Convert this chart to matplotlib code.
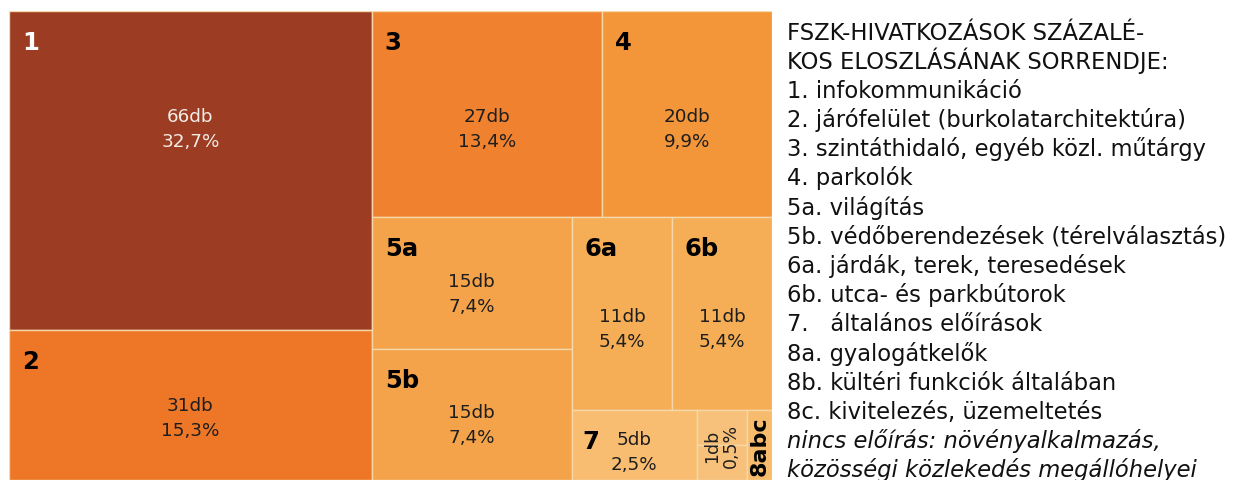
import matplotlib.pyplot as plt
from matplotlib.patches import Rectangle

plt.rcParams['font.family'] = ['DejaVu Sans']

# treemap data
keys = ["1", "2", "3", "4", "5a", "5b", "6a", "6b", "7", "8a", "8b", "8c"]
counts = [66, 31, 27, 20, 15, 15, 11, 11, 5, 1, 1, 1]
percents = [32.7, 15.3, 13.4, 9.9, 7.4, 7.4, 5.4, 5.4, 2.5, 0.5, 0.5, 0.5]
colors = ["#9c3d23", "#ee7627", "#f0822f", "#f39539", "#f4a34a", "#f4a34a",
          "#f5ad56", "#f5ad56", "#f8bd71", "#f8c17b", "#f8c17b", "#f7bb6e"]

# nesting of the boxes (binary splits)
tree = (("1", "2"),
        (("3", "4"),
         (("5a", "5b"),
          (("6a", "6b"),
           ("7", (("8a", "8b"), "8c"))))))

legend_lines = [
    "FSZK-HIVATKOZÁSOK SZÁZALÉ-",
    "KOS ELOSZLÁSÁNAK SORRENDJE:",
    "1. infokommunikáció",
    "2. járófelület (burkolatarchitektúra)",
    "3. szintáthidaló, egyéb közl. műtárgy",
    "4. parkolók",
    "5a. világítás",
    "5b. védőberendezések (térelválasztás)",
    "6a. járdák, terek, teresedések",
    "6b. utca- és parkbútorok",
    "7.   általános előírások",
    "8a. gyalogátkelők",
    "8b. kültéri funkciók általában",
    "8c. kivitelezés, üzemeltetés",
    "nincs előírás: növényalkalmazás,",
    "közösségi közlekedés megállóhelyei",
]

val = dict(zip(keys, counts))


def total(node):
    if isinstance(node, str):
        return val[node]
    return sum(total(c) for c in node)


def layout(node, x, y, w, h, out):
    if isinstance(node, str):
        out[node] = (x, y, w, h)
        return
    a, b = node
    f = total(a) / total(node)
    if w >= h:
        layout(a, x, y, w * f, h, out)
        layout(b, x + w * f, y, w * (1 - f), h, out)
    else:
        layout(a, x, y, w, h * f, out)
        layout(b, x, y + h * f, w, h * (1 - f), out)


fig = plt.figure(figsize=(12.4, 4.81), dpi=100)
ax = fig.add_axes([9 / 1240, 0, 763 / 1240, 469 / 481])
W = 763 / 469
ax.set_xlim(0, W)
ax.set_ylim(1, 0)
ax.axis('off')
px = 1 / 469

rects = {}
layout(tree, 0, 0, W, 1, rects)

for k, c in zip(keys, colors):
    x, y, w, h = rects[k]
    ax.add_patch(Rectangle((x, y), w, h, facecolor=c, edgecolor="#f6d8a8", lw=1))

for k, n, p in zip(keys, counts, percents):
    if k.startswith("8"):
        continue
    x, y, w, h = rects[k]
    tc = "white" if k == "1" else "black"
    vc = "#f3ebe6" if k == "1" else "#1e1e1e"
    off = 10 if k == "7" else 13
    ax.text(x + off * px, y + 19 * px, k, ha="left", va="top",
            fontsize=17.5, fontweight="bold", color=tc)
    cy = y + min(0.57 * h, 116 * px)
    ax.text(x + w / 2, cy - 6 * px, f"{n}db", ha="center", va="baseline",
            fontsize=13.2, color=vc)
    ax.text(x + w / 2, cy + 19 * px, f"{p:.1f}%".replace(".", ","),
            ha="center", va="baseline", fontsize=13.2, color=vc)

# group 8: one value label over 8a/8b, bold name in 8c
xa, ya, wa, ha_ = rects["8a"]
xb, yb, wb, hb = rects["8b"]
ax.text(xa + wa / 2, (ya + yb + hb) / 2,
        f"{counts[9]}db\n" + f"{percents[9]:.1f}%".replace(".", ","),
        rotation=90, ha="center", va="center", fontsize=12.5,
        color="#1e1e1e", linespacing=1.05)
xc, yc, wc, hc = rects["8c"]
ax.text(xc + wc / 2, yc + hc / 2, "8abc", rotation=90, ha="center",
        va="center", fontsize=16, fontweight="bold", color="black")

for i, line in enumerate(legend_lines):
    ypx = 39.5 + i * 29.2
    style = "italic" if i >= 14 else "normal"
    fig.text(787 / 1240, 1 - ypx / 481, line, ha="left", va="baseline",
             fontsize=16.3, style=style, color="#111111")

fig.savefig("out.png", dpi=100)
